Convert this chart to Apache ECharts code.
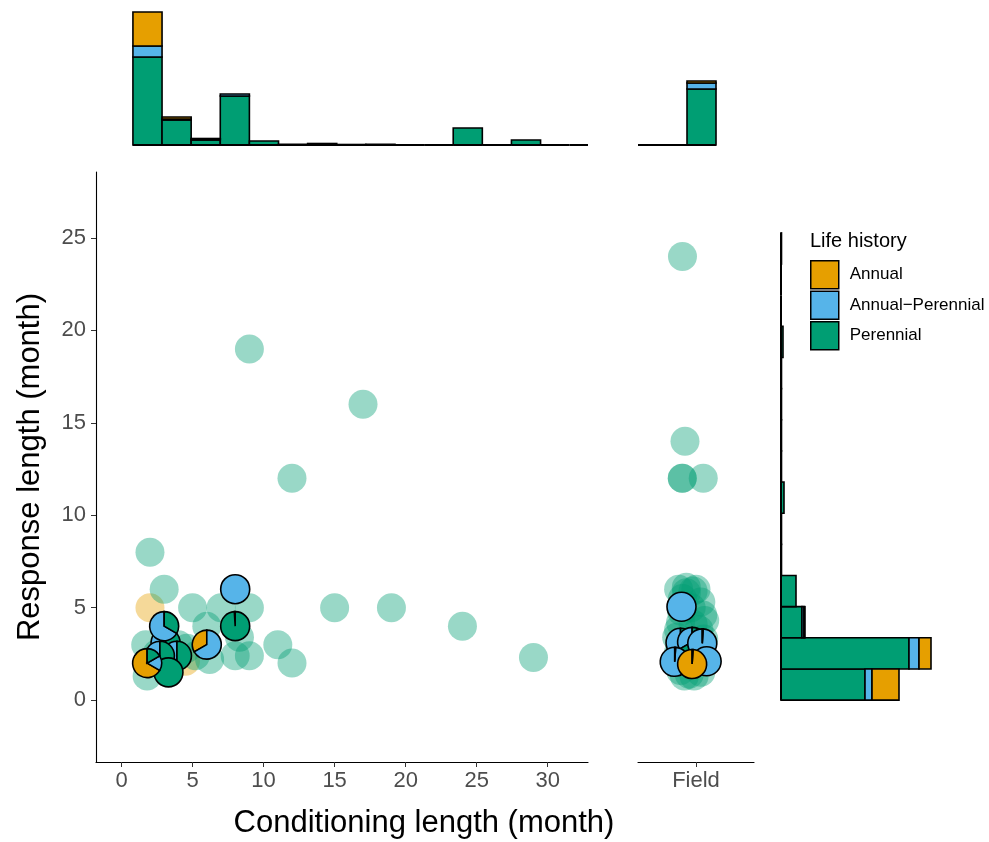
<!DOCTYPE html>
<html>
<head>
<meta charset="utf-8">
<script src="https://cdn.jsdelivr.net/npm/echarts@6/dist/echarts.min.js"></script>
<style>
html,body{margin:0;padding:0;background:#fff;}
#chart{width:989px;height:842px;}
</style>
</head>
<body>
<div id="chart"></div>
<script>
// ---------- DATA ----------
const lifeHistory = ['Annual', 'Annual\u2212Perennial', 'Perennial'];
const colors = ['#E69F00', '#56B4E9', '#009E73'];

// main panel: translucent points (conditioning length, response length)
const mainPerennialPts = [[2,8],[3,6],[5,5],[7,5],[9,5],[6,4],[8.3,3.4],[8,2.4],[9,2.4],[11,3],[12,2],
  [9,19],[17,16],[12,12],[15,5],[19,5],[24,4],[29,2.3],[5.2,2.4],[4.6,2.8],[1.7,3],[1.8,1.3],
  [2.5,2.5],[3.5,2],[4,3],[6.2,2.2]];
const mainAnnualPts = [[2,5],[4.5,2.1]];
// main panel: pies [x, y, Annual, Annual-Perennial, Perennial]
const mainPies = [
  [3.1,3.1,0,1,2],[3.9,2.4,0,1,1],[2.7,2.4,0,1,2],[3,4,0,2,1],[6,3,1,2,0],
  [8,6,0,1,0],[8,4,0.01,0,1],[3.3,1.5,0,0,1],[1.8,2,4,1,1]
];
// field panel: translucent points (jittered position, response length)
const fieldPerennialPts = [[0.86,24],[0.886,14],[0.858,12],[0.858,12],[1.075,12],
  [0.82,6],[0.9,6.1],[0.97,5.9],[0.86,5.5],[1.05,5.3],[0.95,5.0],[1.07,4.6],[1.09,4.3],
  [0.84,4.2],[0.97,4.1],[1.03,3.8],[0.8,3.4],[0.88,3.0],[1.08,3.3],[0.82,2.6],[1.0,2.6],
  [0.84,1.6],[0.93,1.4],[1.05,1.5],[0.88,1.3],[0.98,1.3],[0.9,5.8],[1.0,6.0],[0.85,4.8],[0.82,3.8]];
const fieldPies = [
  [0.84,3.1,0,1,1],[0.96,3.15,0,1,2],[1.065,3.07,0,1,0.01],[1.11,2.1,0,1,0],
  [0.85,5.05,0,1,0],[0.78,2.07,0,1,0.01],[0.96,1.95,1,0,0.01]
];

// top histogram (conditioning length bins)
const topEdges = [0.8,2.85,4.9,6.95,9.0,11.05,13.1,15.15,17.2,19.25,21.3,23.35,25.4,27.45,29.5,31.55,33.6];
const topPerennial = [88,25,5,49,4,0.7,1.5,0.5,0.7,0,0,17,0,5,0,0];
const topAnnPer    = [11,1,1,2,0,0,0,0,0,0,0,0,0,0,0,0];
const topAnnual    = [34,2,0.5,0,0,0,0,0,0,0,0,0,0,0,0,0];

// top histogram of field panel
const fieldTopEdges = [0.307,0.607,0.907,1.207];
const fieldTopPerennial = [0,0,56];
const fieldTopAnnPer = [0,0,6];
const fieldTopAnnual = [0,0,2];

// right histogram (response length bins)
const rightEdges = [0,1.685,3.37,5.055,6.74,8.425,10.11,11.795,13.48,15.165,16.85,18.535,20.22,21.905,23.59,25.275];
const rightPerennial = [84,128,21,15,0.5,0.5,3,0.5,0.5,0.5,0.5,2,0,0,0.5];
const rightAnnPer    = [7,10,2,0,0,0,0,0,0,0,0,0,0,0,0];
const rightAnnual    = [27,12,1,0,0,0,0,0,0,0,0,0,0,0,0];

const xTicks = [0,5,10,15,20,25,30];
const yTicks = [0,5,10,15,20,25];

// ---------- BUILD ----------
const FONT = "'Liberation Sans', Arial, Helvetica, sans-serif";
const chart = echarts.init(document.getElementById('chart'), null, {renderer:'canvas'});

function stacked(edges, layers) {
  const out = layers.map(() => []);
  for (let i = 0; i < edges.length - 1; i++) {
    let base = 0;
    layers.forEach((arr, k) => {
      const v = arr[i];
      if (v > 0) out[k].push([edges[i], edges[i+1], base, base + v]);
      base += v;
    });
  }
  return out;
}
function clipBox(params) {
  const c = params.coordSys;
  return {x: c.x, y: c.y, width: c.width, height: c.height};
}
function vRender(params, api) {
  const p0 = api.coord([api.value(0), api.value(2)]);
  const p1 = api.coord([api.value(1), api.value(3)]);
  const r = echarts.graphic.clipRectByRect({x:p0[0], y:p1[1], width:p1[0]-p0[0], height:p0[1]-p1[1]}, clipBox(params));
  if (!r) return null;
  return {type:'rect', shape:r, style:{fill:api.visual('color'), stroke:'#000', lineWidth:1.6}};
}
function hRender(params, api) {
  const p0 = api.coord([api.value(2), api.value(0)]);
  const p1 = api.coord([api.value(3), api.value(1)]);
  return {type:'rect', shape:{x:p0[0], y:p1[1], width:p1[0]-p0[0], height:p0[1]-p1[1]},
    style:{fill:api.visual('color'), stroke:'#000', lineWidth:1.6}};
}
function vBase(params, api) {
  const c = params.coordSys;
  const p0 = api.coord([api.value(0), 0]);
  const p1 = api.coord([api.value(1), 0]);
  const xa = Math.max(p0[0], c.x), xb = Math.min(p1[0], c.x + c.width);
  if (xb <= xa) return null;
  return {type:'line', shape:{x1:xa, y1:p0[1], x2:xb, y2:p0[1]}, style:{stroke:'#000', lineWidth:2}};
}
function hBase(params, api) {
  const p0 = api.coord([0, api.value(0)]);
  const p1 = api.coord([0, api.value(1)]);
  return {type:'line', shape:{x1:p0[0], y1:p0[1], x2:p1[0], y2:p1[1]}, style:{stroke:'#000', lineWidth:2}};
}
function pieRender(params, api) {
  const c = api.coord([api.value(0), api.value(1)]);
  const vals = [api.value(2), api.value(3), api.value(4)];
  const tot = vals[0] + vals[1] + vals[2];
  const children = [];
  let cum = 0;
  vals.forEach((v, k) => {
    if (v <= 0) return;
    const c0 = cum / tot, c1 = (cum + v) / tot;
    cum += v;
    children.push({type:'sector', shape:{cx:c[0], cy:c[1], r0:0, r:14.5,
      startAngle: -Math.PI/2 - 2*Math.PI*c1, endAngle: -Math.PI/2 - 2*Math.PI*c0, clockwise:true},
      style:{fill:colors[k], stroke:'#000', lineWidth:1.6}});
  });
  return {type:'group', children};
}

const topStack = stacked(topEdges, [topPerennial, topAnnPer, topAnnual]);
const fTopStack = stacked(fieldTopEdges, [fieldTopPerennial, fieldTopAnnPer, fieldTopAnnual]);
const rightStack = stacked(rightEdges, [rightPerennial, rightAnnPer, rightAnnual]);
const pairs = e => e.slice(0, -1).map((v, i) => [v, e[i+1]]);
const layerNames = [lifeHistory[2], lifeHistory[1], lifeHistory[0]];
const layerColors = [colors[2], colors[1], colors[0]];

const series = [];
function addHist(stack, xi, render, enc) {
  stack.forEach((data, k) => {
    series.push({type:'custom', name:layerNames[k], xAxisIndex:xi, yAxisIndex:xi, data,
      renderItem:render, encode:enc, itemStyle:{color:layerColors[k], borderColor:'#000', borderWidth:1.5},
      silent:true, z:3});
  });
}
addHist(topStack, 2, vRender, {x:[0,1], y:[2,3]});
addHist(fTopStack, 3, vRender, {x:[0,1], y:[2,3]});
addHist(rightStack, 4, hRender, {x:[2,3], y:[0,1]});
series.push({type:'custom', name:'base1', xAxisIndex:2, yAxisIndex:2, data:pairs(topEdges), renderItem:vBase, encode:{x:[0,1]}, silent:true, z:4});
series.push({type:'custom', name:'base2', xAxisIndex:3, yAxisIndex:3, data:pairs(fieldTopEdges), renderItem:vBase, encode:{x:[0,1]}, silent:true, z:4});
series.push({type:'custom', name:'base3', xAxisIndex:4, yAxisIndex:4, data:pairs(rightEdges), renderItem:hBase, encode:{y:[0,1]}, silent:true, z:4});

const transG = 'rgba(0,158,115,0.5)', transO = 'rgba(230,159,0,0.5)';
series.push({type:'scatter', name:'ptsA', xAxisIndex:0, yAxisIndex:0, data:mainAnnualPts, symbolSize:29, itemStyle:{color:transO}, silent:true, z:2});
series.push({type:'scatter', name:'ptsP', xAxisIndex:0, yAxisIndex:0, data:mainPerennialPts, symbolSize:29, itemStyle:{color:transG}, silent:true, z:2});
series.push({type:'scatter', name:'fptsP', xAxisIndex:1, yAxisIndex:1, data:fieldPerennialPts, symbolSize:29, itemStyle:{color:transG}, silent:true, z:2});
series.push({type:'custom', name:'pies', xAxisIndex:0, yAxisIndex:0, data:mainPies, renderItem:pieRender, encode:{x:0, y:1}, silent:true, z:5});
series.push({type:'custom', name:'fpies', xAxisIndex:1, yAxisIndex:1, data:fieldPies, renderItem:pieRender, encode:{x:0, y:1}, silent:true, z:5});

const labelStyle = {color:'#4D4D4D', fontSize:22, fontFamily:FONT};
const lineStyle = {color:'#000', width:1.1};
const hidden = (min, max, type) => ({type:type||'value', min, max, show:false, splitLine:{show:false}});

const option = {
  backgroundColor:'#fff',
  animation:false,
  textStyle:{fontFamily:FONT},
  grid:[
    {left:96, top:172, width:492, height:590},
    {left:638, top:172, width:116, height:590},
    {left:96, top:5, width:492, height:140},
    {left:638, top:5, width:116, height:140},
    {left:781, top:172, width:170, height:590}
  ],
  xAxis:[
    {gridIndex:0, type:'value', min:-1.8, max:32.84, splitLine:{show:false},
      axisLine:{onZero:false, lineStyle}, axisTick:{customValues:xTicks, length:5, lineStyle:{color:'#333'}},
      axisLabel:Object.assign({customValues:xTicks, margin:8}, labelStyle)},
    {gridIndex:1, type:'value', min:0.4, max:1.6, splitLine:{show:false},
      axisLine:{onZero:false, lineStyle}, axisTick:{customValues:[1], length:5, lineStyle:{color:'#333'}},
      axisLabel:Object.assign({customValues:[1], margin:8, formatter:()=> 'Field'}, labelStyle)},
    Object.assign({gridIndex:2}, hidden(-1.8, 32.84)),
    Object.assign({gridIndex:3}, hidden(0.4, 1.6)),
    Object.assign({gridIndex:4}, hidden(0, 170))
  ],
  yAxis:[
    {gridIndex:0, type:'value', min:-3.35, max:28.57, splitLine:{show:false},
      axisLine:{onZero:false, lineStyle}, axisTick:{customValues:yTicks, length:5, lineStyle:{color:'#333'}},
      axisLabel:Object.assign({customValues:yTicks, margin:10}, labelStyle),
      name:'Response length (month)', nameLocation:'middle', nameGap:50,
      nameTextStyle:{fontSize:31, color:'#000', fontFamily:FONT}},
    Object.assign({gridIndex:1}, hidden(-3.35, 28.57)),
    Object.assign({gridIndex:2}, hidden(0, 140)),
    Object.assign({gridIndex:3}, hidden(0, 140)),
    Object.assign({gridIndex:4}, hidden(-3.35, 28.57))
  ],
  title:{text:'Life history', left:810, top:231, padding:0,
    textStyle:{fontSize:20, fontWeight:'normal', color:'#000', fontFamily:FONT}},
  legend:{data:lifeHistory, orient:'vertical', left:810, top:260, padding:0, itemWidth:28, itemHeight:28, itemGap:1,
    icon:'rect', selectedMode:false,
    itemStyle:{borderColor:'#000', borderWidth:1.5},
    textStyle:{fontSize:17, color:'#000', fontFamily:FONT, padding:[0,0,0,6]}},
  graphic:[
    {type:'text', x:424, y:823, style:{text:'Conditioning length (month)', textAlign:'center', textVerticalAlign:'middle',
      font:"31px 'Liberation Sans', Arial, sans-serif", fill:'#000'}}
  ],
  series
};
chart.setOption(option);
</script>
</body>
</html>
